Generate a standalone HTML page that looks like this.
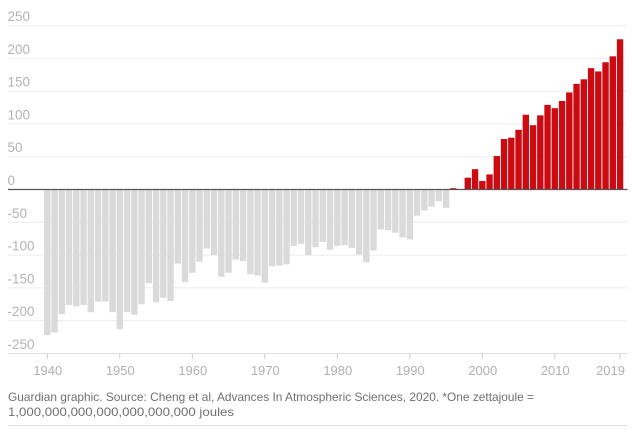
<!DOCTYPE html>
<html>
<head>
<meta charset="utf-8">
<style>
html,body{margin:0;padding:0;background:#fff;}
svg{display:block;}
text{font-family:"Liberation Sans",sans-serif;}
</style>
</head>
<body>
<svg width="635" height="433" viewBox="0 0 635 433" xmlns="http://www.w3.org/2000/svg">
  <g stroke="#ececec" stroke-width="1">
    <line x1="8" x2="627" y1="25.5" y2="25.5"/>
    <line x1="8" x2="627" y1="58.3" y2="58.3"/>
    <line x1="8" x2="627" y1="91.1" y2="91.1"/>
    <line x1="8" x2="627" y1="123.9" y2="123.9"/>
    <line x1="8" x2="627" y1="156.7" y2="156.7"/>
    <line x1="8" x2="627" y1="222.3" y2="222.3"/>
    <line x1="8" x2="627" y1="255.1" y2="255.1"/>
    <line x1="8" x2="627" y1="287.9" y2="287.9"/>
    <line x1="8" x2="627" y1="320.7" y2="320.7"/>
  </g>
  <line x1="8" x2="627" y1="353.5" y2="353.5" stroke="#dedede" stroke-width="1"/>
  <g fill="#b3b3b3" font-size="13.5">
    <text x="7.5" y="21">250</text>
    <text x="7.5" y="53.8">200</text>
    <text x="7.5" y="86.6">150</text>
    <text x="7.5" y="119.4">100</text>
    <text x="7.5" y="152.2">50</text>
    <text x="7.5" y="185">0</text>
    <text x="7.5" y="217.8">-50</text>
    <text x="7.5" y="250.6">-100</text>
    <text x="7.5" y="283.4">-150</text>
    <text x="7.5" y="316.2">-200</text>
    <text x="7.5" y="349">-250</text>
  </g>
  <g transform="translate(47.3,189.5) scale(7.25,-0.656)">
    <g fill="#dadada">
      <rect x="-0.44" y="-222" width="0.88" height="222"/>
      <rect x="0.56" y="-218" width="0.88" height="218"/>
      <rect x="1.56" y="-190" width="0.88" height="190"/>
      <rect x="2.56" y="-176" width="0.88" height="176"/>
      <rect x="3.56" y="-178" width="0.88" height="178"/>
      <rect x="4.56" y="-176" width="0.88" height="176"/>
      <rect x="5.56" y="-187" width="0.88" height="187"/>
      <rect x="6.56" y="-171" width="0.88" height="171"/>
      <rect x="7.56" y="-171" width="0.88" height="171"/>
      <rect x="8.56" y="-187" width="0.88" height="187"/>
      <rect x="9.56" y="-213" width="0.88" height="213"/>
      <rect x="10.56" y="-187" width="0.88" height="187"/>
      <rect x="11.56" y="-191" width="0.88" height="191"/>
      <rect x="12.56" y="-175" width="0.88" height="175"/>
      <rect x="13.56" y="-143" width="0.88" height="143"/>
      <rect x="14.56" y="-172" width="0.88" height="172"/>
      <rect x="15.56" y="-165" width="0.88" height="165"/>
      <rect x="16.56" y="-170" width="0.88" height="170"/>
      <rect x="17.56" y="-113" width="0.88" height="113"/>
      <rect x="18.56" y="-141" width="0.88" height="141"/>
      <rect x="19.56" y="-127" width="0.88" height="127"/>
      <rect x="20.56" y="-110" width="0.88" height="110"/>
      <rect x="21.56" y="-90" width="0.88" height="90"/>
      <rect x="22.56" y="-100" width="0.88" height="100"/>
      <rect x="23.56" y="-133" width="0.88" height="133"/>
      <rect x="24.56" y="-127" width="0.88" height="127"/>
      <rect x="25.56" y="-107" width="0.88" height="107"/>
      <rect x="26.56" y="-109" width="0.88" height="109"/>
      <rect x="27.56" y="-129" width="0.88" height="129"/>
      <rect x="28.56" y="-131" width="0.88" height="131"/>
      <rect x="29.56" y="-142" width="0.88" height="142"/>
      <rect x="30.56" y="-117" width="0.88" height="117"/>
      <rect x="31.56" y="-116" width="0.88" height="116"/>
      <rect x="32.56" y="-114" width="0.88" height="114"/>
      <rect x="33.56" y="-86" width="0.88" height="86"/>
      <rect x="34.56" y="-83" width="0.88" height="83"/>
      <rect x="35.56" y="-100" width="0.88" height="100"/>
      <rect x="36.56" y="-88" width="0.88" height="88"/>
      <rect x="37.56" y="-80" width="0.88" height="80"/>
      <rect x="38.56" y="-92" width="0.88" height="92"/>
      <rect x="39.56" y="-86" width="0.88" height="86"/>
      <rect x="40.56" y="-85" width="0.88" height="85"/>
      <rect x="41.56" y="-89" width="0.88" height="89"/>
      <rect x="42.56" y="-99" width="0.88" height="99"/>
      <rect x="43.56" y="-111" width="0.88" height="111"/>
      <rect x="44.56" y="-93" width="0.88" height="93"/>
      <rect x="45.56" y="-61" width="0.88" height="61"/>
      <rect x="46.56" y="-62" width="0.88" height="62"/>
      <rect x="47.56" y="-66" width="0.88" height="66"/>
      <rect x="48.56" y="-73" width="0.88" height="73"/>
      <rect x="49.56" y="-76" width="0.88" height="76"/>
      <rect x="50.56" y="-40" width="0.88" height="40"/>
      <rect x="51.56" y="-32" width="0.88" height="32"/>
      <rect x="52.56" y="-26" width="0.88" height="26"/>
      <rect x="53.56" y="-18" width="0.88" height="18"/>
      <rect x="54.56" y="-28" width="0.88" height="28"/>
    </g>
    <g fill="#cc0a12">
      <rect x="55.56" y="0" width="0.88" height="2"/>
      <rect x="57.56" y="0" width="0.88" height="18"/>
      <rect x="58.56" y="0" width="0.88" height="31"/>
      <rect x="59.56" y="0" width="0.88" height="13"/>
      <rect x="60.56" y="0" width="0.88" height="23"/>
      <rect x="61.56" y="0" width="0.88" height="51"/>
      <rect x="62.56" y="0" width="0.88" height="77"/>
      <rect x="63.56" y="0" width="0.88" height="79"/>
      <rect x="64.56" y="0" width="0.88" height="91"/>
      <rect x="65.56" y="0" width="0.88" height="114"/>
      <rect x="66.56" y="0" width="0.88" height="98"/>
      <rect x="67.56" y="0" width="0.88" height="113"/>
      <rect x="68.56" y="0" width="0.88" height="129"/>
      <rect x="69.56" y="0" width="0.88" height="124"/>
      <rect x="70.56" y="0" width="0.88" height="135"/>
      <rect x="71.56" y="0" width="0.88" height="148"/>
      <rect x="72.56" y="0" width="0.88" height="161"/>
      <rect x="73.56" y="0" width="0.88" height="168"/>
      <rect x="74.56" y="0" width="0.88" height="185"/>
      <rect x="75.56" y="0" width="0.88" height="180"/>
      <rect x="76.56" y="0" width="0.88" height="194"/>
      <rect x="77.56" y="0" width="0.88" height="203"/>
      <rect x="78.56" y="0" width="0.88" height="229"/>
    </g>
  </g>
  <line x1="8" x2="627.5" y1="189.5" y2="189.5" stroke="#555555" stroke-width="1.2"/>
  <g stroke="#cccccc" stroke-width="1">
    <line x1="47.3" x2="47.3" y1="354" y2="359"/>
    <line x1="119.8" x2="119.8" y1="354" y2="359"/>
    <line x1="192.3" x2="192.3" y1="354" y2="359"/>
    <line x1="264.8" x2="264.8" y1="354" y2="359"/>
    <line x1="337.3" x2="337.3" y1="354" y2="359"/>
    <line x1="409.8" x2="409.8" y1="354" y2="359"/>
    <line x1="482.3" x2="482.3" y1="354" y2="359"/>
    <line x1="554.8" x2="554.8" y1="354" y2="359"/>
    <line x1="620" x2="620" y1="354" y2="359"/>
  </g>
  <g fill="#b0b0b0" font-size="13" text-anchor="middle">
    <text x="47.8" y="375">1940</text>
    <text x="120.3" y="375">1950</text>
    <text x="192.8" y="375">1960</text>
    <text x="265.3" y="375">1970</text>
    <text x="337.8" y="375">1980</text>
    <text x="410.3" y="375">1990</text>
    <text x="482.8" y="375">2000</text>
    <text x="555.3" y="375">2010</text>
    <text x="625" y="375" text-anchor="end">2019</text>
  </g>
  <g fill="#707070" font-size="12">
    <text x="8" y="401" textLength="526" lengthAdjust="spacingAndGlyphs">Guardian graphic. Source: Cheng et al, Advances In Atmospheric Sciences, 2020. *One zettajoule =</text>
    <text x="8" y="416" textLength="226" lengthAdjust="spacingAndGlyphs">1,000,000,000,000,000,000,000 joules</text>
  </g>
  <line x1="8" x2="627" y1="425.5" y2="425.5" stroke="#dddddd" stroke-width="1"/>
</svg>
</body>
</html>
